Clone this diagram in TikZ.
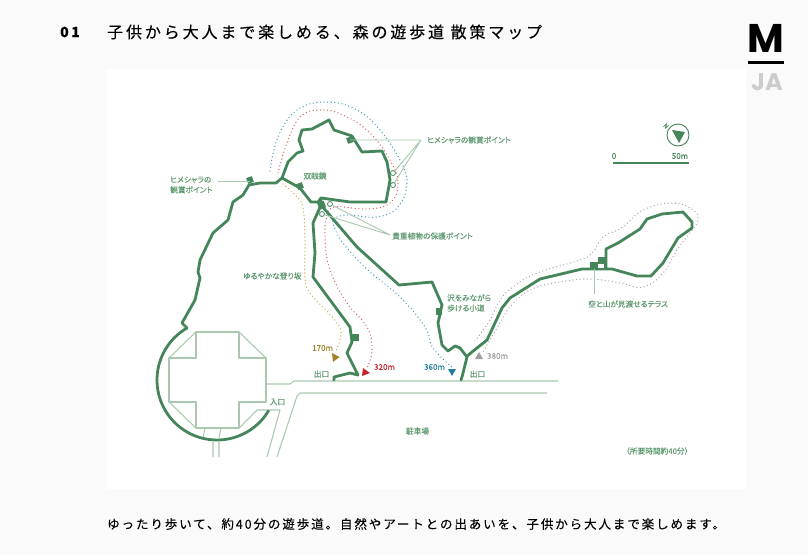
\documentclass[tikz,border=0pt]{standalone}
\usepackage{fontspec}
\setmainfont{Noto Sans CJK JP}
\newfontfamily\jptitle[LetterSpace=18,FakeBold=0.2]{Noto Sans CJK JP}
\newfontfamily\jpcap[LetterSpace=15,FakeBold=0.05]{Noto Sans CJK JP}
\newfontfamily\jplabel[FakeBold=0.05,RawFeature=+palt]{Noto Sans CJK JP}
\newfontfamily\jpplain[FakeBold=0.05]{Noto Sans CJK JP}
\newfontfamily\logofont{Poppins}
\definecolor{pagebg}{HTML}{FAFAFA}
\definecolor{trail}{HTML}{44865A}
\definecolor{road}{HTML}{A9C8AE}
\definecolor{labelgreen}{HTML}{609A72}
\definecolor{dblue}{HTML}{3A98B6}
\definecolor{dred}{HTML}{DC5862}
\definecolor{dyellow}{HTML}{C4AA40}
\definecolor{dgrey}{HTML}{A4A4A4}
\definecolor{tblue}{HTML}{1F7F9C}
\definecolor{tred}{HTML}{C4282E}
\definecolor{tolive}{HTML}{A0842A}
\definecolor{tgrey}{HTML}{A0A0A0}
\tikzset{
  trailline/.style={draw=trail,line width=2.8pt,line join=round,line cap=round},
  roadline/.style={draw=road,line width=1.05pt,line join=round},
  leaderline/.style={draw=road,line width=.9pt},
  dotline/.style={line width=1.35pt,line cap=round,dash pattern=on 0pt off 3.6pt},
  maplabel/.style={font=\fontsize{7.7}{10.2}\selectfont\jplabel,text=labelgreen,inner sep=0pt,align=left},
  numlabel/.style={font=\fontsize{8}{10}\selectfont\jplabel,inner sep=0pt},
  viewpoint/.style={fill=trail,draw=none},
  ringmark/.style={circle,draw=trail,fill=white,line width=.8pt,minimum size=5pt,inner sep=0pt},
}
\begin{document}
\begin{tikzpicture}[x=1pt,y=-1pt]
\useasboundingbox (0,0) rectangle (808,555);
\fill[pagebg] (0,0) rectangle (808,555);
\fill[white] (107,69) rectangle (746,489);
% headings
\node[anchor=west,inner sep=0pt,font=\fontsize{14}{16}\selectfont\bfseries\jptitle] (num) at (60,32) {01};
\node[anchor=west,inner sep=0pt,font=\fontsize{16}{18}\selectfont\jptitle] (title) at (107,32) {子供から大人まで楽しめる、森の遊歩道 散策マップ};
\node[anchor=west,inner sep=0pt,font=\fontsize{12.53}{15}\selectfont\jpcap] (caption) at (107,524) {ゆったり歩いて、約40分の遊歩道。自然やアートとの出あいを、子供から大人まで楽しめます。};
% logo
\node[anchor=center,inner sep=0pt,font=\fontsize{40}{40}\selectfont\logofont\bfseries,text=black] (logoM) at (766,38) {M};
\fill[black] (748,61) rectangle (784,63.5);
\node[anchor=center,inner sep=0pt,font=\fontsize{24}{24}\selectfont\logofont\bfseries,text=black!20] (logoJA) at (767,82) {JA};
% roads and castle
\draw[roadline] (196,358)--(196,332)--(239,332)--(239,358)--(266,358)--(266,402)--(239,402)--(239,428)--(196,428)--(196,402)--(169,402)--(169,358)--cycle;
\draw[roadline] (196,332)--(169,358) (239,332)--(266,358) (169,402)--(196,428) (239,428)--(257,410)--(280,410)--(267,457);
\draw[roadline] (266,384)--(290,384)--(294,381)--(558,381);
\draw[roadline] (277,457)--(297,396)--(300,393)--(547,393);
\draw[roadline] (205,428)--(203,438) (221,428)--(219,438) (213,442)--(213,457) (219,442)--(219,457);
% dotted routes
\draw[dotline,draw=dblue] plot[smooth,tension=.7] coordinates {(270,171)(278,137)(297,110)(327,102)(357,110)(380,130)(400,160)(407,183)(398,207)(377,217)(350,215)(337,217)(333,223)(343,243)(368,270)(400,297)(425,327)(433,348)(452,367)};
\draw[dotline,draw=dred] plot[smooth,tension=.7] coordinates {(278,173)(287,143)(300,117)(320,110)(343,115)(370,133)(390,160)(398,183)(390,203)(367,209)(335,207)(327,217)(325,237)(330,270)(347,303)(367,327)(372,350)(367,368)};
\draw[dotline,draw=dyellow] plot[smooth,tension=.7] coordinates {(283,184)(297,197)(303,208)(305,240)(305,277)(310,293)(333,318)(341,333)(335,353)};
\draw[dotline,draw=dgrey] plot[smooth,tension=.7] coordinates {(475,341)(490,320)(500,300)(513,287)(537,273)(580,260)(593,252)(603,237)(623,227)(643,210)(673,203)(693,210)(698,220)(690,233)(677,250)(663,273)(643,287)(620,283)(590,279)(560,282)(530,290)(510,307)(500,323)(483,352)};
% trail
\draw[trailline] plot[domain=240:31,samples=90] ({217+60*cos(\x)},{380+60*sin(\x)});
\draw[trailline] (187,328)--(182,323)--(195,300)--(200,278)--(198,272)--(200,260)--(213,233)--(228,220)--(233,202)--(243,195)--(249,185)--(260,183)--(276,183)--(282,178)--(288,162)--(297,153)--(303,151)--(299,140)--(302,130)--(312,129)--(329,120)--(334,130)--(352,136)--(362,152)--(382,151)--(387,162)--(390,180)--(386,202)--(350,202)--(321,198)--(318,202)--(311,202)--(300,188)--(282,178);
\draw[trailline] (321,198)--(321,205)--(313,223)--(315,253)--(313,277)--(350,327)--(352,342)--(347,353)--(358,375)--(350,373)--(334,377)--(334,380);
\draw[trailline] (321,205)--(357,247)--(399,285)--(432,282)--(442,305)--(438,323)--(442,345)--(448,351)--(455,346)--(460,348)--(467,357)--(462,377)--(461,380);
\draw[trailline] (467,356)--(487,340)--(502,308)--(510,298)--(540,279)--(582,269)--(612,269)--(637,276)--(651,276)--(663,263)--(678,238)--(692,228)--(692,222)--(683,212)--(662,214)--(647,219)--(640,229)--(618,243)--(606,249)--(606,269);
% terrace
\draw[trail,line width=1.4pt,fill=white] (597,263.5) rectangle (605,269);
\fill[viewpoint] (590,262) rectangle (597,269);
\fill[viewpoint] (590,262) rectangle (600,264);
\fill[viewpoint] (598,257) rectangle (606,263);
% viewpoint markers
\fill[viewpoint,rotate around={20:(250,180)}] (247,177) rectangle (253,183);
\fill[viewpoint,rotate around={20:(300,186)}] (297,183) rectangle (303,189);
\fill[viewpoint,rotate around={20:(350,140)}] (347,137) rectangle (353,143);
\fill[viewpoint,rotate around={20:(321,205)}] (318,202) rectangle (325,209);
\fill[viewpoint] (351,333.5) rectangle (359,340.5);
\fill[viewpoint] (435.5,308) rectangle (441.5,315);
% leaders and ring marks
\coordinate (topjoin) at (421,140);
\coordinate (topmark) at (350,140);
\coordinate (lowjoin) at (390,235);
\coordinate (leftmark) at (250,181);
\coordinate (leftend) at (218,181);
\coordinate (terraceend) at (594,294);
\coordinate (terracetop) at (594,269);
\node[ringmark] (ringa) at (393,173) {};
\node[ringmark] (ringb) at (393,185) {};
\node[ringmark] (ringc) at (330,204) {};
\node[ringmark] (ringd) at (322,214) {};
\draw[leaderline] (topmark)--(topjoin) (topjoin)--(ringa) (topjoin)--(ringb);
\draw[leaderline] (lowjoin)--(ringc) (lowjoin)--(ringd);
\draw[leaderline] (leftend)--(leftmark);
\draw[leaderline] (terracetop)--(terraceend);
% arrow triangles
\fill[tolive] (332,353)--(339.5,357)--(333,362)--cycle;
\fill[tred] (363,368)--(370,373)--(362,376)--cycle;
\fill[tblue] (448,369)--(456,369)--(452,376)--cycle;
\fill[tgrey] (475,359)--(483,359)--(479,352)--cycle;
% labels
\node[maplabel,anchor=west] (l1) at (427,140) {ヒメシャラの観賞ポイント};
\node[maplabel,anchor=west] (l2) at (392,236) {貴重植物の保護ポイント};
\node[maplabel,anchor=west] (l3) at (170,185) {ヒメシャラの\\観賞ポイント};
\node[maplabel,anchor=center] (l4) at (315,176) {双眼鏡};
\node[maplabel,anchor=west] (l5) at (243,276) {ゆるやかな登り坂};
\node[maplabel,anchor=west] (l6) at (447,303) {沢をみながら\\歩ける小道};
\node[maplabel,anchor=west] (l7) at (588,304) {空と山が見渡せるテラス};
\node[maplabel,anchor=center] (l8) at (321.5,374) {出口};
\node[maplabel,anchor=center] (l9) at (477.5,374) {出口};
\node[maplabel,anchor=center] (l10) at (277.5,402) {入口};
\node[maplabel,anchor=center] (l11) at (417.5,431) {駐車場};
\node[maplabel,anchor=west,font=\fontsize{7.7}{10.2}\selectfont\jpplain] (l12) at (622,451) {（所要時間約40分）};
\node[numlabel,anchor=west,text=tolive] (d1) at (312,348) {170m};
\node[numlabel,anchor=west,text=tred] (d2) at (374,367) {320m};
\node[numlabel,anchor=west,text=tblue] (d3) at (424,367) {360m};
\node[numlabel,anchor=west,text=tgrey] (d4) at (487,356) {380m};
% scale and compass
\node[numlabel,text=trail,anchor=center] (s0) at (614,156) {0};
\node[numlabel,text=trail,anchor=center] (s1) at (680,156) {50m};
\fill[trail] (613,161.6) rectangle (689,164.4);
\node[circle,draw=trail,line width=.9pt,minimum size=22pt,inner sep=0pt] (compass) at (678,135) {};
\fill[trail] (672,130)--(685,132)--(679,143)--cycle;
\node[font=\fontsize{6}{6}\selectfont\jplabel,text=trail,inner sep=0pt,rotate=-45] (north) at (666,126) {N};
\end{tikzpicture}
\end{document}
